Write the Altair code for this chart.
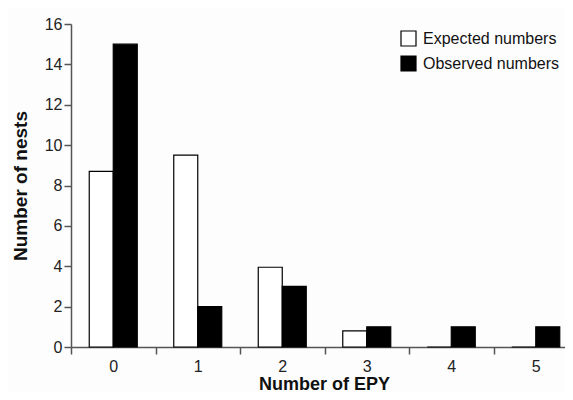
import altair as alt
import pandas as pd

epy = [0, 1, 2, 3, 4, 5]
expected = [8.7, 9.5, 3.95, 0.8, 0, 0]
observed = [15, 2, 3, 1, 1, 1]
series = ["Expected numbers", "Observed numbers"]

rows = []
for i, e in enumerate(epy):
    rows.append({"epy": str(e), "series": series[0], "n": expected[i]})
    rows.append({"epy": str(e), "series": series[1], "n": observed[i]})
df = pd.DataFrame(rows)

font = "Liberation Sans"
axis_col = "#555555"

chart = alt.Chart(df).mark_bar(stroke="black", strokeWidth=1.2).encode(
    x=alt.X("epy:N", sort=[str(e) for e in epy],
            scale=alt.Scale(paddingInner=0.432, paddingOuter=0.139, align=0.777),
            axis=alt.Axis(title="Number of EPY", labelAngle=0,
                          tickOffset=-42.25, labelOffset=42.25,
                          tickSize=7, labelPadding=4, titlePadding=1, titleX=253,
                          labelFontSize=16, titleFontSize=18, titleFontWeight="bold",
                          labelFont=font, titleFont=font,
                          labelColor="#222222", titleColor="#111111",
                          domainColor=axis_col, tickColor=axis_col,
                          domainWidth=1.5, tickWidth=1.5)),
    xOffset=alt.XOffset("series:N", sort=series,
                        scale=alt.Scale(paddingInner=0, paddingOuter=0)),
    y=alt.Y("n:Q", scale=alt.Scale(domain=[0, 16], nice=False),
            axis=alt.Axis(title="Number of nests", values=list(range(0, 17, 2)),
                          grid=False, tickSize=7, labelPadding=2, titlePadding=14,
                          labelFontSize=16, titleFontSize=19, titleFontWeight="bold",
                          labelFont=font, titleFont=font,
                          labelColor="#222222", titleColor="#111111",
                          domainColor=axis_col, tickColor=axis_col,
                          domainWidth=1.5, tickWidth=1.5)),
    color=alt.Color("series:N", sort=series,
                    scale=alt.Scale(domain=series, range=["white", "black"]),
                    legend=alt.Legend(title=None, orient="none", legendX=329, legendY=6,
                                      symbolType="square", symbolSize=225,
                                      symbolStrokeColor="black", symbolStrokeWidth=1.2,
                                      symbolOpacity=1, labelFontSize=16, labelFont=font,
                                      labelColor="#111111", labelOffset=6, rowPadding=4,
                                      padding=0)),
).properties(
    width=494, height=323,
    autosize=alt.AutoSizeParams(type="none"),
    padding={"left": 63, "top": 16, "right": 0, "bottom": 45},
    background="#fdfdfd",
).configure_view(stroke=None)

chart.save("out.html", embed_options={"renderer": "svg", "actions": False})
